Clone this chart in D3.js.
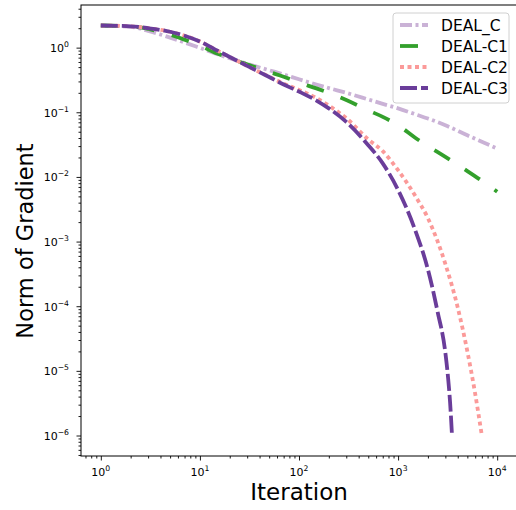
<!DOCTYPE html>
<html>
<head>
<meta charset="utf-8">
<script src="https://d3js.org/d3.v7.min.js"></script>
<style>
  html, body { margin: 0; padding: 0; background: #fff; }
  svg { display: block; }
  text { font-family: "DejaVu Sans", sans-serif; }
</style>
</head>
<body>
<svg id="chart" width="516" height="510"></svg>
<script>
// ---------- data ----------
const seriesNames = ["DEAL_C", "DEAL-C1", "DEAL-C2", "DEAL-C3"];

const iterationsC  = [1, 2, 3, 5, 7, 10, 15, 20, 30, 50, 70, 100, 150, 200, 300, 500, 700, 1000, 1500, 2000, 3000, 5000, 7000, 10000];
const valuesC      = [2.2, 2.1, 1.82, 1.43, 1.20, 0.99, 0.794, 0.684, 0.562, 0.447, 0.385, 0.324, 0.269, 0.237, 0.20, 0.158, 0.135, 0.115, 0.093, 0.080, 0.063, 0.044, 0.035, 0.0275];

const iterationsC1 = [1, 2, 3, 5, 7, 10, 15, 20, 30, 50, 70, 100, 150, 200, 300, 500, 700, 1000, 1500, 2000, 3000, 5000, 7000, 10000];
const valuesC1     = [2.2, 2.14, 1.95, 1.585, 1.33, 1.07, 0.81, 0.684, 0.55, 0.42, 0.355, 0.288, 0.234, 0.20, 0.155, 0.107, 0.085, 0.063, 0.040, 0.030, 0.0204, 0.0123, 0.0087, 0.0059];

const iterationsC2 = [1, 2, 3, 5, 7, 10, 15, 20, 30, 50, 70, 100, 150, 200, 300, 500, 700, 1000, 1500, 2000, 3000, 4000, 5000, 6000, 7000];
const valuesC2     = [2.2, 2.14, 2.0, 1.76, 1.53, 1.245, 0.90, 0.716, 0.522, 0.355, 0.278, 0.222, 0.166, 0.127, 0.081, 0.038, 0.025, 0.0127, 0.005, 0.0023, 4.5e-4, 9.5e-5, 2e-5, 4.4e-6, 1e-6];

const iterationsC3 = [1, 2, 3, 5, 7, 10, 15, 20, 30, 50, 70, 100, 150, 200, 300, 500, 700, 1000, 1500, 2000, 2500, 3000, 3200, 3350, 3500];
const valuesC3     = [2.2, 2.14, 2.0, 1.76, 1.53, 1.245, 0.90, 0.716, 0.522, 0.351, 0.269, 0.209, 0.152, 0.115, 0.071, 0.031, 0.0162, 0.0063, 0.00145, 3.7e-4, 8.3e-5, 1.9e-5, 7.6e-6, 3.2e-6, 1e-6];

const xTickValues = [1, 10, 100, 1000, 10000];
const xTickExps   = ["0", "1", "2", "3", "4"];
const yTickValues = [1, 1e-1, 1e-2, 1e-3, 1e-4, 1e-5, 1e-6];
const yTickExps   = ["0", "\u22121", "\u22122", "\u22123", "\u22124", "\u22125", "\u22126"];

const xLabel = "Iteration";
const yLabel = "Norm of Gradient";

// ---------- styles ----------
const styles = [
  { color: "#cab2d6", dash: "12,3.5,3,3.5" },
  { color: "#33a02c", dash: "18,18" },
  { color: "#fb9a99", dash: "4,3.5" },
  { color: "#6a3d9a", dash: "17,4" }
];

const series = [
  { name: seriesNames[0], xs: iterationsC,  ys: valuesC },
  { name: seriesNames[1], xs: iterationsC1, ys: valuesC1 },
  { name: seriesNames[2], xs: iterationsC2, ys: valuesC2 },
  { name: seriesNames[3], xs: iterationsC3, ys: valuesC3 }
];

// ---------- layout ----------
const L = 81, R = 517, T = 5, B = 456;
const svg = d3.select("#chart");

// matplotlib-like 5% margins in log space
const allX = series.flatMap(s => s.xs), allY = series.flatMap(s => s.ys);
const lx0 = Math.log10(d3.min(allX)), lx1 = Math.log10(d3.max(allX));
const ly0 = Math.log10(d3.min(allY)), ly1 = Math.log10(d3.max(allY));
const mx = (lx1 - lx0) * 0.05, my = (ly1 - ly0) * 0.05;

const x = d3.scaleLog().domain([Math.pow(10, lx0 - mx), Math.pow(10, lx1 + mx)]).range([L, R]);
const y = d3.scaleLog().domain([Math.pow(10, ly0 - my), Math.pow(10, ly1 + my)]).range([B, T]);

// ---------- lines ----------
const line = d3.line().x(d => x(d[0])).y(d => y(d[1])).curve(d3.curveMonotoneX);
const gLines = svg.append("g");
series.forEach((s, i) => {
  gLines.append("path")
    .datum(s.xs.map((v, j) => [v, s.ys[j]]))
    .attr("d", line)
    .attr("fill", "none")
    .attr("stroke", styles[i].color)
    .attr("stroke-width", 3.8)
    .attr("stroke-dasharray", styles[i].dash)
    .attr("stroke-linecap", "butt");
});

// ---------- axes ----------
function minorTicks(scale) {
  const [a, b] = scale.domain().map(Math.log10);
  const out = [];
  for (let e = Math.floor(Math.min(a, b)); e <= Math.ceil(Math.max(a, b)); e++) {
    for (let k = 2; k <= 9; k++) {
      const v = k * Math.pow(10, e);
      const lv = Math.log10(v);
      if (lv >= Math.min(a, b) && lv <= Math.max(a, b)) out.push(v);
    }
  }
  return out;
}

const xAxisMajor = d3.axisBottom(x).tickValues(xTickValues).tickSize(4.5).tickFormat("");
const xAxisMinor = d3.axisBottom(x).tickValues(minorTicks(x)).tickSize(2.5).tickFormat("");
const yAxisMajor = d3.axisLeft(y).tickValues(yTickValues).tickSize(4.5).tickFormat("");
const yAxisMinor = d3.axisLeft(y).tickValues(minorTicks(y)).tickSize(2.5).tickFormat("");

[xAxisMajor, xAxisMinor].forEach(ax => {
  const g = svg.append("g").attr("transform", `translate(0,${B})`).call(ax);
  g.select(".domain").remove();
  g.selectAll("line").attr("stroke", "#000").attr("stroke-width", 0.9);
});
[yAxisMajor, yAxisMinor].forEach(ax => {
  const g = svg.append("g").attr("transform", `translate(${L},0)`).call(ax);
  g.select(".domain").remove();
  g.selectAll("line").attr("stroke", "#000").attr("stroke-width", 0.9);
});

// frame
svg.append("rect").attr("x", L).attr("y", T).attr("width", R - L).attr("height", B - T)
  .attr("fill", "none").attr("stroke", "#000").attr("stroke-width", 1);

// tick labels (mathtext-like 10^n)
xTickValues.forEach((v, i) => {
  const t = svg.append("text").attr("x", x(v)).attr("y", 476)
    .attr("text-anchor", "middle").attr("font-size", 11).attr("fill", "#000");
  t.append("tspan").text("10");
  t.append("tspan").attr("font-size", 7.7).attr("dy", -4.8).text(xTickExps[i]);
});
yTickValues.forEach((v, i) => {
  const t = svg.append("text").attr("x", 69).attr("y", y(v) + 4.3)
    .attr("text-anchor", "end").attr("font-size", 11).attr("fill", "#000");
  t.append("tspan").text("10");
  t.append("tspan").attr("font-size", 7.7).attr("dy", -4.8).text(yTickExps[i]);
});

// axis labels
svg.append("text").attr("x", (L + R) / 2).attr("y", 500)
  .attr("text-anchor", "middle").attr("font-size", 23).text(xLabel);
svg.append("text").attr("transform", `translate(33,241) rotate(-90)`)
  .attr("text-anchor", "middle").attr("font-size", 22.5).text(yLabel);

// ---------- legend ----------
const lg = svg.append("g");
lg.append("rect").attr("x", 393).attr("y", 13).attr("width", 116).attr("height", 90)
  .attr("rx", 3).attr("fill", "#fff").attr("fill-opacity", 0.8)
  .attr("stroke", "#d0d0d0").attr("stroke-width", 1);
series.forEach((s, i) => {
  const cy = 25 + i * 21;
  lg.append("line").attr("x1", 400).attr("x2", 428).attr("y1", cy).attr("y2", cy)
    .attr("stroke", styles[i].color).attr("stroke-width", 3.8)
    .attr("stroke-dasharray", styles[i].dash);
  lg.append("text").attr("x", 441).attr("y", cy + 5.6)
    .attr("font-size", 15.5).attr("fill", "#000").text(s.name);
});
</script>
</body>
</html>
